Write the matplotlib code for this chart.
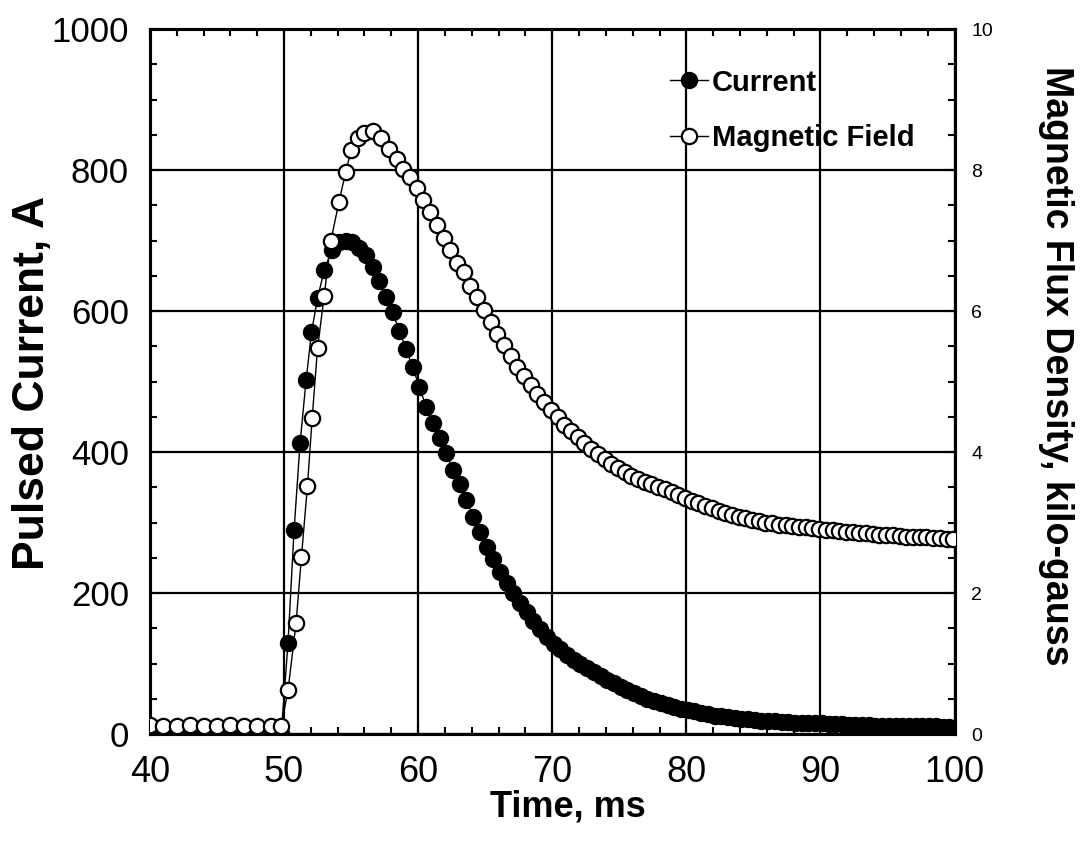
import matplotlib
matplotlib.use("Agg")
import matplotlib.pyplot as plt
from matplotlib.ticker import MultipleLocator

plt.rcParams['font.family'] = ['Liberation Sans', 'DejaVu Sans']

# Pulsed current (A) vs time (ms)
time_cur = [41, 42, 43, 44, 45, 46, 47, 48, 49, 49.8,
            50.3, 50.75, 51.2, 51.65, 52.05, 52.5, 53.0, 53.55, 54.1, 54.6,
            55.1, 55.6, 56.1, 56.6, 57.1, 57.6, 58.1, 58.6, 59.1, 59.6,
            60.1, 60.6, 61.1, 61.6, 62.1, 62.6, 63.1, 63.6, 64.1, 64.6,
            65.1, 65.6, 66.1, 66.6, 67.1, 67.6, 68.1, 68.6, 69.1, 69.6,
            70.1, 70.6, 71.1, 71.6, 72.1, 72.6, 73.1, 73.6, 74.1, 74.6,
            75.1, 75.6, 76.1, 76.6, 77.1, 77.6, 78.1, 78.6, 79.1, 79.6,
            80.1, 80.6, 81.1, 81.6, 82.1, 82.6, 83.1, 83.6, 84.1, 84.6,
            85.1, 85.6, 86.1, 86.6, 87.1, 87.6, 88.1, 88.6, 89.1, 89.6,
            90.1, 90.6, 91.1, 91.6, 92.1, 92.6, 93.1, 93.6, 94.1, 94.6,
            95.1, 95.6, 96.1, 96.6, 97.1, 97.6, 98.1, 98.6, 99.1, 99.6]
current = [3, 2, 3, 2, 3, 2, 3, 2, 3, 2,
           129, 289, 413, 502, 570, 618, 658, 686, 698, 700,
           698, 690, 680, 662, 642, 620, 598, 572, 546, 520,
           492, 464, 441, 420, 398, 375, 355, 332, 308, 286,
           266, 248, 230, 214, 200, 186, 173, 161, 149, 138,
           128, 120, 112, 105, 99, 93, 88, 82, 77, 72,
           67, 62, 58, 54, 50, 47, 44, 41, 38, 36,
           34, 32, 30, 28, 26, 25, 24, 23, 22, 21,
           20, 19, 18, 18, 17, 17, 16, 16, 15, 15,
           15, 14, 14, 14, 13, 13, 13, 13, 12, 12,
           12, 12, 12, 11, 11, 11, 11, 11, 10, 10]

# Magnetic flux density (kilo-gauss) vs time (ms)
time_fld = [40, 41, 42, 43, 44, 45, 46, 47, 48, 49, 49.8,
            50.3, 50.9, 51.3, 51.75, 52.1, 52.5, 53.0, 53.5, 54.1, 54.6,
            55.0, 55.5, 56.0, 56.6, 57.2, 57.8, 58.4, 58.9, 59.4, 59.9,
            60.4, 60.9, 61.4, 61.9, 62.4, 62.9, 63.4, 63.9, 64.4, 64.9,
            65.4, 65.9, 66.4, 66.9, 67.4, 67.9, 68.4, 68.9, 69.4, 69.9,
            70.4, 70.9, 71.4, 71.9, 72.4, 72.9, 73.4, 73.9, 74.4, 74.9,
            75.4, 75.9, 76.4, 76.9, 77.4, 77.9, 78.4, 78.9, 79.4, 79.9,
            80.4, 80.9, 81.4, 81.9, 82.4, 82.9, 83.4, 83.9, 84.4, 84.9,
            85.4, 85.9, 86.4, 86.9, 87.4, 87.9, 88.4, 88.9, 89.4, 89.9,
            90.4, 90.9, 91.4, 91.9, 92.4, 92.9, 93.4, 93.9, 94.4, 94.9,
            95.4, 95.9, 96.4, 96.9, 97.4, 97.9, 98.4, 98.9, 99.4, 99.9]
field = [0.13, 0.12, 0.12, 0.13, 0.12, 0.12, 0.13, 0.12, 0.12, 0.12, 0.12,
         0.62, 1.57, 2.51, 3.52, 4.48, 5.47, 6.22, 7.0, 7.55, 7.97,
         8.28, 8.45, 8.52, 8.55, 8.45, 8.30, 8.16, 8.02, 7.90, 7.74,
         7.57, 7.40, 7.22, 7.04, 6.86, 6.68, 6.55, 6.36, 6.20, 6.02,
         5.84, 5.68, 5.52, 5.36, 5.21, 5.08, 4.95, 4.83, 4.71, 4.59,
         4.49, 4.39, 4.30, 4.21, 4.13, 4.05, 3.97, 3.90, 3.83, 3.77,
         3.71, 3.66, 3.62, 3.58, 3.55, 3.51, 3.47, 3.43, 3.39, 3.35,
         3.31, 3.27, 3.24, 3.20, 3.17, 3.14, 3.11, 3.08, 3.06, 3.04,
         3.02, 3.00, 2.99, 2.97, 2.96, 2.95, 2.94, 2.93, 2.92, 2.91,
         2.90, 2.89, 2.88, 2.87, 2.86, 2.85, 2.85, 2.84, 2.83, 2.82,
         2.82, 2.81, 2.80, 2.80, 2.79, 2.79, 2.78, 2.78, 2.77, 2.77]

fig = plt.figure(figsize=(10.86, 8.55), dpi=100)
ax = fig.add_axes([0.138, 0.1415, 0.741, 0.8245])
ax2 = ax.twinx()

l1, = ax.plot(time_cur, current, color='black', lw=1, marker='o', ms=11.5,
              mfc='black', mec='black', label='Current', zorder=3)
l2, = ax2.plot(time_fld, field, color='black', lw=1, marker='o', ms=11,
               mfc='white', mec='black', mew=1.6, label='Magnetic Field', zorder=3)

ax.set_xlim(40, 100)
ax.set_ylim(0, 1000)
ax2.set_ylim(0, 10)

ax.xaxis.set_major_locator(MultipleLocator(10))
ax.xaxis.set_minor_locator(MultipleLocator(2))
ax.yaxis.set_major_locator(MultipleLocator(200))
ax.yaxis.set_minor_locator(MultipleLocator(50))
ax2.yaxis.set_major_locator(MultipleLocator(2))
ax2.yaxis.set_minor_locator(MultipleLocator(0.5))

ax.grid(True, which='major', color='black', lw=1.6)
ax.tick_params(axis='both', which='both', direction='in', top=True, right=False, width=1.5)
ax.tick_params(axis='both', which='major', length=8)
ax.tick_params(axis='both', which='minor', length=5)
ax.tick_params(axis='y', which='major', labelsize=25, pad=15)
ax.tick_params(axis='x', which='major', labelsize=26, pad=15)
ax2.tick_params(axis='y', which='both', direction='in', width=1.5)
ax2.tick_params(axis='y', which='major', length=8, labelsize=14, pad=12)
ax2.tick_params(axis='y', which='minor', length=5)

for a in (ax, ax2):
    for s in a.spines.values():
        s.set_linewidth(2.2)

ax.set_xlabel('Time, ms', fontsize=26, fontweight='bold')
ax.xaxis.set_label_coords(0.52, -0.079)
ax.set_ylabel('Pulsed Current, A', fontsize=32, fontweight='bold')
ax.yaxis.set_label_coords(-0.12, 0.498)
ax2.set_ylabel('Magnetic Flux Density, kilo-gauss', fontsize=27, fontweight='bold',
               rotation=270)
ax2.yaxis.set_label_coords(1.149, 0.523)

leg = ax2.legend(handles=[l1, l2], loc='upper left', bbox_to_anchor=(0.646, 0.944),
                 frameon=False, handlelength=1.3, handletextpad=0.15,
                 borderpad=0, borderaxespad=0, labelspacing=0.95,
                 prop={'weight': 'bold', 'size': 21})

fig.savefig('out.png', dpi=100)
